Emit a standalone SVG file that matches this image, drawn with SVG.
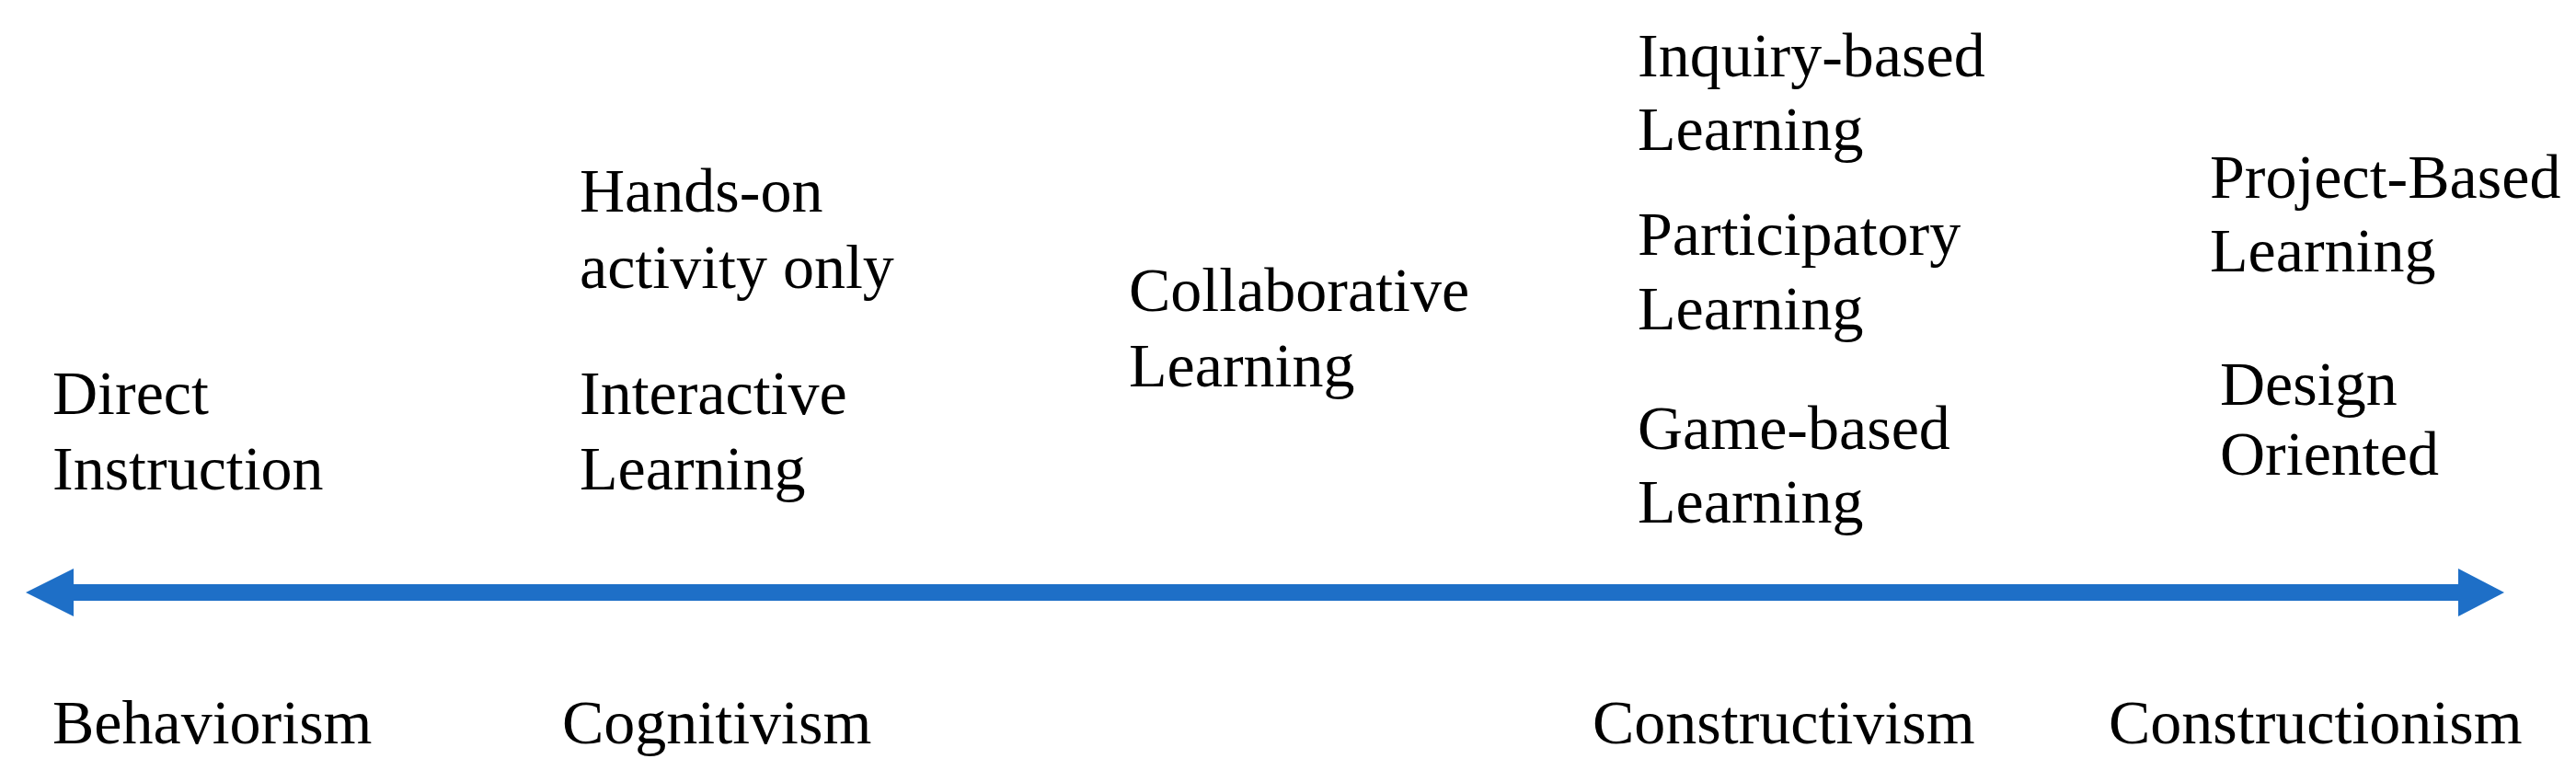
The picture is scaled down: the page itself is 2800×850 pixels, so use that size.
<svg xmlns="http://www.w3.org/2000/svg" width="2800" height="850" viewBox="0 0 2800 850">
<style>
text{font-family:"Liberation Serif","Times New Roman",serif;font-size:68px;fill:#000}
.axis{stroke:#1E6FC7;stroke-width:18;fill:none}
.head{fill:#1E6FC7}
</style>
<rect width="2800" height="850" fill="#fff"/>
<g id="connectors">
<line class="axis" x1="70" y1="644" x2="2682" y2="644"/>
<polygon class="head" points="28,644 80,618 80,670"/>
<polygon class="head" points="2722,644 2672,618 2672,670"/>
</g>
<g id="direct-instruction"><text x="57" y="450">Direct</text><text x="57" y="532">Instruction</text></g>
<g id="hands-on"><text x="630" y="230">Hands-on</text><text x="630" y="313">activity only</text></g>
<g id="interactive-learning"><text x="630" y="450">Interactive</text><text x="630" y="532">Learning</text></g>
<g id="collaborative-learning"><text x="1227" y="338">Collaborative</text><text x="1227" y="420">Learning</text></g>
<g id="inquiry-based-learning"><text x="1780" y="83">Inquiry-based</text><text x="1780" y="163">Learning</text></g>
<g id="participatory-learning"><text x="1780" y="277">Participatory</text><text x="1780" y="358">Learning</text></g>
<g id="game-based-learning"><text x="1780" y="488">Game-based</text><text x="1780" y="568">Learning</text></g>
<g id="project-based-learning"><text x="2402" y="215">Project-Based</text><text x="2402" y="295">Learning</text></g>
<g id="design-oriented"><text x="2413" y="440">Design</text><text x="2413" y="516">Oriented</text></g>
<g id="behaviorism"><text x="57" y="808">Behaviorism</text></g>
<g id="cognitivism"><text x="611" y="808">Cognitivism</text></g>
<g id="constructivism"><text x="1731" y="808">Constructivism</text></g>
<g id="constructionism"><text x="2292" y="808">Constructionism</text></g>
</svg>
